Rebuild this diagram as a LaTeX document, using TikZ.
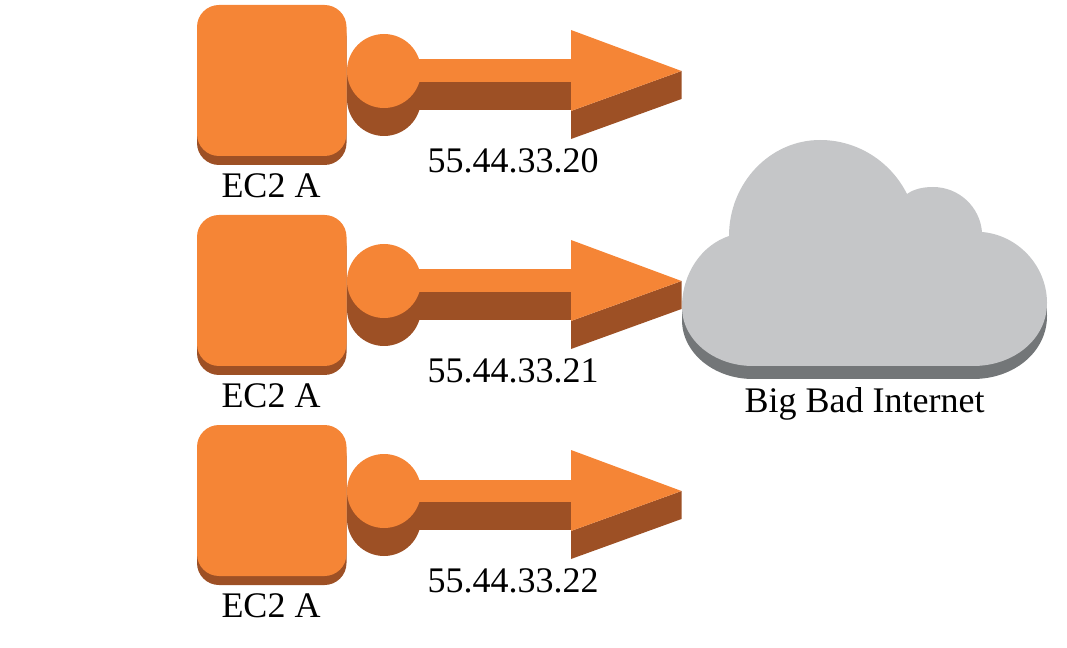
\documentclass[tikz,border=0pt]{standalone}
\usepackage{fontspec}
\setmainfont{Liberation Serif}
\definecolor{ec2face}{HTML}{F58536}
\definecolor{ec2side}{HTML}{9D5025}
\definecolor{cloudface}{HTML}{C5C6C8}
\definecolor{cloudside}{HTML}{737678}
\tikzset{
    face/.style={fill=ec2face},
    side/.style={fill=ec2side},
    lbl/.style={anchor=base, inner sep=0pt, font=\fontsize{27}{30}\selectfont}
}
\newcommand{\cloudpath}{(753,366) .. controls (714,366) and (682,340) .. (682,307)
    .. controls (682,273) and (702,245) .. (729,236)
    .. controls (729,183) and (770,140) .. (820,140)
    .. controls (858,140) and (891,162) .. (907,194)
    .. controls (914,189) and (923,187) .. (933,187)
    .. controls (959,187) and (980,207) .. (982,232)
    .. controls (1018,235) and (1047,266) .. (1047,303)
    .. controls (1047,339) and (1014,366) .. (973,366) -- cycle}
\begin{document}
\begin{tikzpicture}[x=0.75pt, y=-0.75pt]
    \useasboundingbox (0,0) rectangle (1067,648);

    % --- one row per instance ---
    \foreach \r/\ip in {0/20, 1/21, 2/22} {
        \begin{scope}[shift={(0,210*\r)}]
            % Instance box
            \fill[side, rounded corners=16.5pt] (197,14) rectangle (346.5,165);
            \fill[face, rounded corners=16.5pt] (197,5) rectangle (346.5,156);

            % Arrow, side faces first
            \fill[side] (347,71) rectangle (420,99);
            \fill[side] (384,99) circle (37);
            \fill[side] (400,82) rectangle (572,110);
            \fill[side] (571,111) -- (681.5,71) -- (681.5,99) -- (571,139) -- cycle;

            % Arrow, top faces
            \fill[face] (384,71) circle (37);
            \fill[face] (410,59.5) rectangle (572,82);
            \fill[face] (571,30) -- (681.5,71) -- (571,111) -- cycle;

            \node[lbl] (ec2\r) at (271,197.5) {EC2 A};
            \node[lbl] (ip\r) at (513,172.5) {55.44.33.\ip};
        \end{scope}
    }

    % --- Cloud ---
    \fill[cloudside] (682,307) rectangle (1047,316);
    \fill[cloudside, shift={(0,13)}] \cloudpath;
    \fill[cloudface] \cloudpath;
    \node[lbl] (internet) at (864.5,412) {Big Bad Internet};
\end{tikzpicture}
\end{document}
